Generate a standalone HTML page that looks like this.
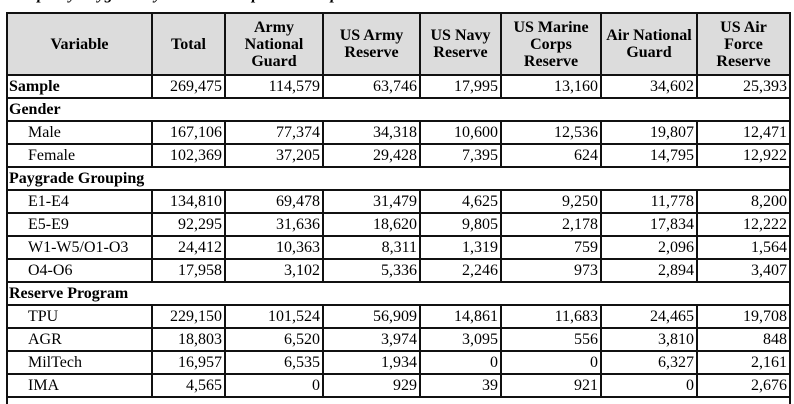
<!DOCTYPE html>
<html><head><style>
html,body{margin:0;padding:0;background:#fff;width:794px;height:404px;overflow:hidden;position:relative}
.title{position:absolute;left:8px;top:-14px;font:bold italic 16px "Liberation Serif",serif;color:#000;white-space:nowrap}
table{position:absolute;left:6px;top:12px;border-collapse:collapse;table-layout:fixed;font:16px "Liberation Serif",serif;color:#000}
td,th{border:2px solid #111;padding:0 2px;height:21px;line-height:21px;white-space:nowrap;overflow:hidden}
th{background:#dcdcdc;font-weight:bold;height:60px;line-height:17px;text-align:center}
td{text-align:right}
td.l{text-align:left;padding-left:20px}
td.b{text-align:left;font-weight:bold;padding-left:1px}
</style></head><body>
<div class="title">Sample by Paygrade by Reserve Component Sample</div>
<table>
<colgroup><col style="width:145px"><col style="width:73px"><col style="width:98px"><col style="width:97px"><col style="width:81px"><col style="width:100px"><col style="width:96px"><col style="width:93px"></colgroup>
<tr><th>Variable</th><th>Total</th><th>Army<br>National<br>Guard</th><th>US Army<br>Reserve</th><th>US Navy<br>Reserve</th><th>US Marine<br>Corps<br>Reserve</th><th>Air National<br>Guard</th><th>US Air<br>Force<br>Reserve</th></tr>
<tr><td class="b">Sample</td><td>269,475</td><td>114,579</td><td>63,746</td><td>17,995</td><td>13,160</td><td>34,602</td><td>25,393</td></tr>
<tr><td class="b" colspan="8">Gender</td></tr>
<tr><td class="l">Male</td><td>167,106</td><td>77,374</td><td>34,318</td><td>10,600</td><td>12,536</td><td>19,807</td><td>12,471</td></tr>
<tr><td class="l">Female</td><td>102,369</td><td>37,205</td><td>29,428</td><td>7,395</td><td>624</td><td>14,795</td><td>12,922</td></tr>
<tr><td class="b" colspan="8">Paygrade Grouping</td></tr>
<tr><td class="l">E1-E4</td><td>134,810</td><td>69,478</td><td>31,479</td><td>4,625</td><td>9,250</td><td>11,778</td><td>8,200</td></tr>
<tr><td class="l">E5-E9</td><td>92,295</td><td>31,636</td><td>18,620</td><td>9,805</td><td>2,178</td><td>17,834</td><td>12,222</td></tr>
<tr><td class="l">W1-W5/O1-O3</td><td>24,412</td><td>10,363</td><td>8,311</td><td>1,319</td><td>759</td><td>2,096</td><td>1,564</td></tr>
<tr><td class="l">O4-O6</td><td>17,958</td><td>3,102</td><td>5,336</td><td>2,246</td><td>973</td><td>2,894</td><td>3,407</td></tr>
<tr><td class="b" colspan="8">Reserve Program</td></tr>
<tr><td class="l">TPU</td><td>229,150</td><td>101,524</td><td>56,909</td><td>14,861</td><td>11,683</td><td>24,465</td><td>19,708</td></tr>
<tr><td class="l">AGR</td><td>18,803</td><td>6,520</td><td>3,974</td><td>3,095</td><td>556</td><td>3,810</td><td>848</td></tr>
<tr><td class="l">MilTech</td><td>16,957</td><td>6,535</td><td>1,934</td><td>0</td><td>0</td><td>6,327</td><td>2,161</td></tr>
<tr><td class="l">IMA</td><td>4,565</td><td>0</td><td>929</td><td>39</td><td>921</td><td>0</td><td>2,676</td></tr>
<tr><td class="b" colspan="8">&nbsp;</td></tr>
</table>
</body></html>
